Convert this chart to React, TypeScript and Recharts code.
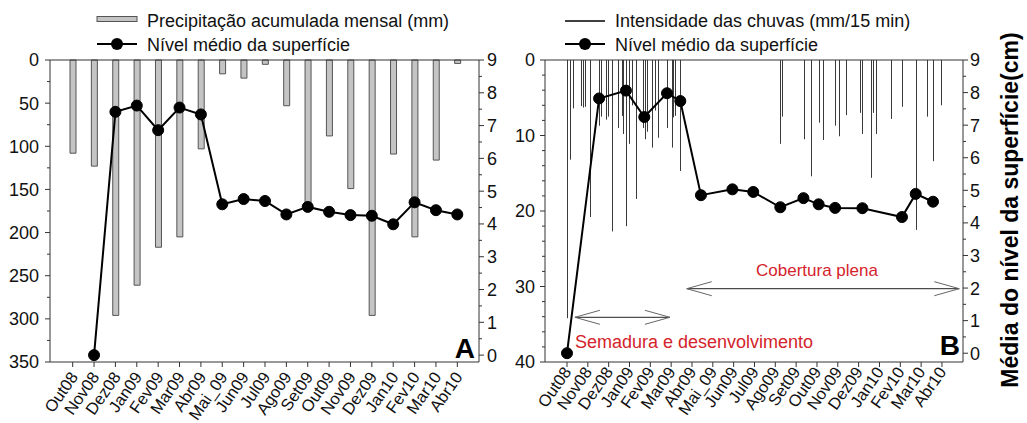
import React from 'react';
import { ComposedChart, Bar, Line, XAxis, YAxis, ReferenceLine, Legend } from 'recharts';

const months = [
  'Out08', 'Nov08', 'Dez08', 'Jan09', 'Fev09', 'Mar09', 'Abr09', 'Mai_09', 'Jun09', 'Jul09',
  'Ago09', 'Set09', 'Out09', 'Nov09', 'Dez09', 'Jan10', 'Fev10', 'Mar10', 'Abr10',
];

// Painel A: precipitação mensal (mm) e nível médio (cm)
const precipMonthly = [108, 123, 296, 261, 217, 205, 103, 16, 21, 5, 53, 168, 88, 149, 296, 109, 205, 116, 4];
const levelMonthly = [null, 0, 7.42, 7.61, 6.86, 7.55, 7.34, 4.6, 4.76, 4.7, 4.29, 4.52, 4.37, 4.27, 4.25, 3.99, 4.66, 4.42, 4.29];

// Painel B: tempo em meses a partir de Out08 (0 = Out08, 18 = Abr10)
const intensityTime = [
  0, 0.14, 0.27, 0.66, 0.78, 0.88, 1.1, 1.55, 1.63, 1.86, 1.95, 2.15, 2.43, 2.63, 2.7, 2.83, 2.96, 3.12,
  3.3, 3.66, 3.74, 3.83, 4.08, 4.22, 4.38, 4.79, 5.03, 5.1, 5.18, 5.44,
  10.24, 10.3, 11.38, 11.7, 12.08, 12.28, 12.87, 13.06, 13.38, 14.07, 14.16, 14.58, 14.71, 14.83,
  15.55, 16.08, 16.75, 17.27, 17.56, 17.95,
];
const intensityValue = [
  34.2, 13.2, 6.4, 6.1, 6.3, 6.2, 20.8, 8.7, 7.5, 7.9, 7.5, 22.7, 9.0, 7.4, 9.8, 22.0, 11.1, 6.0,
  18.4, 9.0, 10.5, 9.5, 11.6, 6.7, 10.3, 9.0, 11.6, 7.6, 7.4, 14.7,
  11.1, 7.5, 10.5, 15.4, 8.3, 10.6, 8.7, 10.1, 7.3, 7.0, 9.8, 15.6, 7.0, 9.8,
  7.8, 6.2, 22.5, 7.5, 13.4, 6.0,
];
const levelTime = [0, 1.54, 2.83, 3.71, 4.8, 5.44, 6.43, 7.94, 8.94, 10.24, 11.35, 12.08, 12.87, 14.18, 16.08, 16.74, 17.57];
const levelValue = [0, 7.82, 8.06, 7.25, 7.98, 7.74, 4.85, 5.03, 4.95, 4.48, 4.76, 4.57, 4.46, 4.45, 4.18, 4.89, 4.65];

// períodos anotados (meses) e altura da seta no eixo de intensidade
const periods = [
  { from: 0.38, to: 4.94, y: 34.08, label: 'Semadura e desenvolvimento' },
  { from: 5.75, to: 18.83, y: 30.29, label: 'Cobertura plena' },
];

const FONT = '"Liberation Sans", Arial, sans-serif';
const AXIS = '#333333';
const BAR_FILL = '#c4c4c4';
const BAR_STROKE = '#555555';
const RED = '#d4232b';

const steps = (a: number, b: number, s: number) => {
  const out: number[] = [];
  for (let v = a; v <= b + 1e-9; v += s) out.push(Math.round(v * 100) / 100);
  return out;
};

const dataA = months.map((m, i) => ({ month: m, precip: precipMonthly[i], level: levelMonthly[i] }));

const dataB = [
  ...intensityTime.map((t, i) => ({ t, rain: intensityValue[i], level: null as number | null })),
  ...levelTime.map((t, i) => ({ t, rain: null as number | null, level: levelValue[i] })),
].sort((a, b) => a.t - b.t);

function makeYTick(side: 'left' | 'right', every: number, gap: number) {
  return (p: any) => {
    const v = p.payload.value;
    const major = Math.abs(v / every - Math.round(v / every)) < 1e-6;
    const dir = side === 'left' ? -1 : 1;
    return (
      <g>
        <line x1={p.x} x2={p.x + dir * (major ? 5 : 3)} y1={p.y} y2={p.y} stroke={AXIS} />
        {major && (
          <text
            x={p.x + dir * gap}
            y={p.y}
            dy="0.36em"
            textAnchor={side === 'left' ? 'end' : 'start'}
            fontSize={18}
            fill="#111"
            fontFamily={FONT}
          >
            {v}
          </text>
        )}
      </g>
    );
  };
}

function makeXTick(names: string[] | null, dx: number, dy: number) {
  return (p: any) => {
    const v = p.payload.value;
    const label = names ? names[v] : v;
    const tx = p.x + dx;
    const ty = p.y + dy;
    return (
      <g>
        <line x1={p.x} x2={p.x} y1={p.y} y2={p.y + 5} stroke={AXIS} />
        <text
          x={tx}
          y={ty}
          transform={`rotate(-55 ${tx} ${ty})`}
          textAnchor="end"
          fontSize={16.5}
          fill="#111"
          fontFamily={FONT}
        >
          {label}
        </text>
      </g>
    );
  };
}

// 1px crisp vertical stroke for each 15-min intensity value
const IntensityStroke = (p: any) => {
  if (p.height == null || !isFinite(p.height) || p.height === 0) return null;
  const cx = Math.round(p.x + p.width / 2);
  const top = Math.min(p.y, p.y + p.height);
  return <rect x={cx} y={top} width={1} height={Math.abs(p.height)} fill="#3a3a3a" />;
};

const LegendA = () => (
  <svg width={500} height={58} style={{ display: 'block', fontFamily: FONT }}>
    <rect x={97} y={16.5} width={40} height={5} fill={BAR_FILL} stroke={BAR_STROKE} />
    <text x={147} y={26.5} fontSize={18} fill="#111">Precipitação acumulada mensal (mm)</text>
    <line x1={97} x2={137} y1={44} y2={44} stroke="#000" strokeWidth={2} />
    <circle cx={117} cy={44} r={6} fill="#000" />
    <text x={147} y={51} fontSize={18} fill="#111">Nível médio da superfície</text>
  </svg>
);

const LegendB = () => (
  <svg width={500} height={58} style={{ display: 'block', fontFamily: FONT }}>
    <line x1={65} x2={105} y1={21} y2={21} stroke="#000" strokeWidth={1.5} />
    <text x={115} y={26.5} fontSize={18} fill="#111">Intensidade das chuvas (mm/15 min)</text>
    <line x1={65} x2={105} y1={44} y2={44} stroke="#000" strokeWidth={2} />
    <circle cx={85} cy={44} r={6} fill="#000" />
    <text x={115} y={51} fontSize={18} fill="#111">Nível médio da superfície</text>
  </svg>
);

const dotStyle = { r: 5.5, fill: '#000', stroke: '#000', strokeWidth: 1 };

function PanelA() {
  return (
    <ComposedChart width={510} height={423} data={dataA} margin={{ top: 60, right: 0, bottom: 0, left: 0 }}>
      <Legend
        layout="horizontal"
        verticalAlign="middle"
        align="center"
        wrapperStyle={{ top: 0, left: 0, width: 500, height: 58 }}
        content={() => <LegendA />}
      />
      <XAxis
        dataKey="month"
        type="category"
        padding={{ left: 12, right: 11 }}
        height={61}
        interval={0}
        tickSize={0}
        tickMargin={0}
        tickLine={false}
        axisLine={{ stroke: AXIS }}
        tick={makeXTick(null, 6, 15)}
      />
      <YAxis
        yAxisId="left"
        reversed
        domain={[0, 350]}
        ticks={steps(0, 350, 25)}
        interval={0}
        width={50}
        tickSize={0}
        tickMargin={0}
        tickLine={false}
        axisLine={{ stroke: AXIS }}
        tick={makeYTick('left', 50, 11)}
      />
      <YAxis
        yAxisId="right"
        orientation="right"
        domain={[-0.21, 9]}
        ticks={steps(0, 9, 0.5)}
        interval={0}
        width={31}
        tickSize={0}
        tickMargin={0}
        tickLine={false}
        axisLine={{ stroke: AXIS }}
        tick={makeYTick('right', 1, 8)}
      />
      <ReferenceLine yAxisId="left" y={0} stroke={AXIS} />
      <Bar
        yAxisId="left"
        dataKey="precip"
        barSize={6}
        fill={BAR_FILL}
        stroke={BAR_STROKE}
        strokeWidth={1}
        isAnimationActive={false}
      />
      <Line
        yAxisId="right"
        dataKey="level"
        stroke="#000"
        strokeWidth={2}
        dot={dotStyle}
        activeDot={false}
        isAnimationActive={false}
      />
    </ComposedChart>
  );
}

function PanelB() {
  const headLen = 1.2;
  const headSpread = 0.93;
  return (
    <ComposedChart width={527} height={423} data={dataB} margin={{ top: 60, right: 35, bottom: 0, left: 0 }}>
      <Legend
        layout="horizontal"
        verticalAlign="middle"
        align="center"
        wrapperStyle={{ top: 0, left: 0, width: 500, height: 58 }}
        content={() => <LegendB />}
      />
      <XAxis
        dataKey="t"
        type="number"
        domain={[-1.056, 19.01]}
        allowDataOverflow
        ticks={steps(0, 18, 1)}
        interval={0}
        height={61}
        tickSize={0}
        tickMargin={0}
        tickLine={false}
        axisLine={{ stroke: AXIS }}
        tick={makeXTick(months, 5, 10)}
      />
      <YAxis
        yAxisId="left"
        reversed
        domain={[0, 40]}
        ticks={steps(0, 40, 2)}
        interval={0}
        width={45}
        tickSize={0}
        tickMargin={0}
        tickLine={false}
        axisLine={{ stroke: AXIS }}
        tick={makeYTick('left', 10, 10)}
      />
      <YAxis
        yAxisId="right"
        orientation="right"
        domain={[-0.27, 9]}
        ticks={steps(0, 9, 0.5)}
        interval={0}
        width={29}
        tickSize={0}
        tickMargin={0}
        tickLine={false}
        axisLine={{ stroke: AXIS }}
        tick={makeYTick('right', 1, 7)}
      />
      <ReferenceLine yAxisId="left" y={0} stroke={AXIS} />
      <Bar
        yAxisId="left"
        dataKey="rain"
        barSize={1}
        fill="#3a3a3a"
        shape={IntensityStroke}
        isAnimationActive={false}
      />
      <Line
        yAxisId="right"
        dataKey="level"
        connectNulls
        stroke="#000"
        strokeWidth={2}
        dot={dotStyle}
        activeDot={false}
        isAnimationActive={false}
      />
      {periods.map((p, i) => (
        <ReferenceLine
          key={`shaft-${i}`}
          yAxisId="left"
          segment={[{ x: p.from, y: p.y }, { x: p.to, y: p.y }]}
          stroke="#222"
          strokeWidth={1}
          label={(lp: any) => {
            const vb = lp.viewBox || {};
            return i === 0 ? (
              <text x={vb.x} y={vb.y + 30.5} fontSize={18} fill={RED} fontFamily={FONT}>
                {p.label}
              </text>
            ) : (
              <text
                x={vb.x + vb.width / 2 - 6}
                y={vb.y - 12.7}
                fontSize={17}
                fill={RED}
                textAnchor="middle"
                fontFamily={FONT}
              >
                {p.label}
              </text>
            );
          }}
        />
      ))}
      {periods.flatMap((p, i) => [
        [p.from, p.from + headLen, -headSpread],
        [p.from, p.from + headLen, headSpread],
        [p.to, p.to - headLen, -headSpread],
        [p.to, p.to - headLen, headSpread],
      ].map(([tip, end, dy], j) => (
        <ReferenceLine
          key={`head-${i}-${j}`}
          yAxisId="left"
          segment={[{ x: tip, y: p.y }, { x: end, y: p.y + dy }]}
          stroke="#666"
          strokeWidth={1}
        />
      )))}
    </ComposedChart>
  );
}

export default function App() {
  return (
    <div
      style={{
        position: 'absolute',
        left: 0,
        top: 0,
        width: 1027,
        height: 423,
        background: '#fff',
        fontFamily: FONT,
        overflow: 'hidden',
      }}
    >
      <div style={{ position: 'absolute', left: 0, top: 0 }}>
        <PanelA />
      </div>
      <div style={{ position: 'absolute', left: 500, top: 0 }}>
        <PanelB />
      </div>
      <svg
        width={1027}
        height={423}
        style={{ position: 'absolute', left: 0, top: 0, pointerEvents: 'none', fontFamily: FONT }}
      >
        <text x={475} y={358} textAnchor="end" fontSize={28} fontWeight="bold" fill="#000">A</text>
        <text x={960} y={355} textAnchor="end" fontSize={28} fontWeight="bold" fill="#000">B</text>
        <text
          x={1018}
          y={210}
          transform="rotate(-90 1018 210)"
          textAnchor="middle"
          fontSize={23}
          fontWeight="bold"
          fill="#000"
        >
          Média do nível da superfície(cm)
        </text>
      </svg>
    </div>
  );
}
